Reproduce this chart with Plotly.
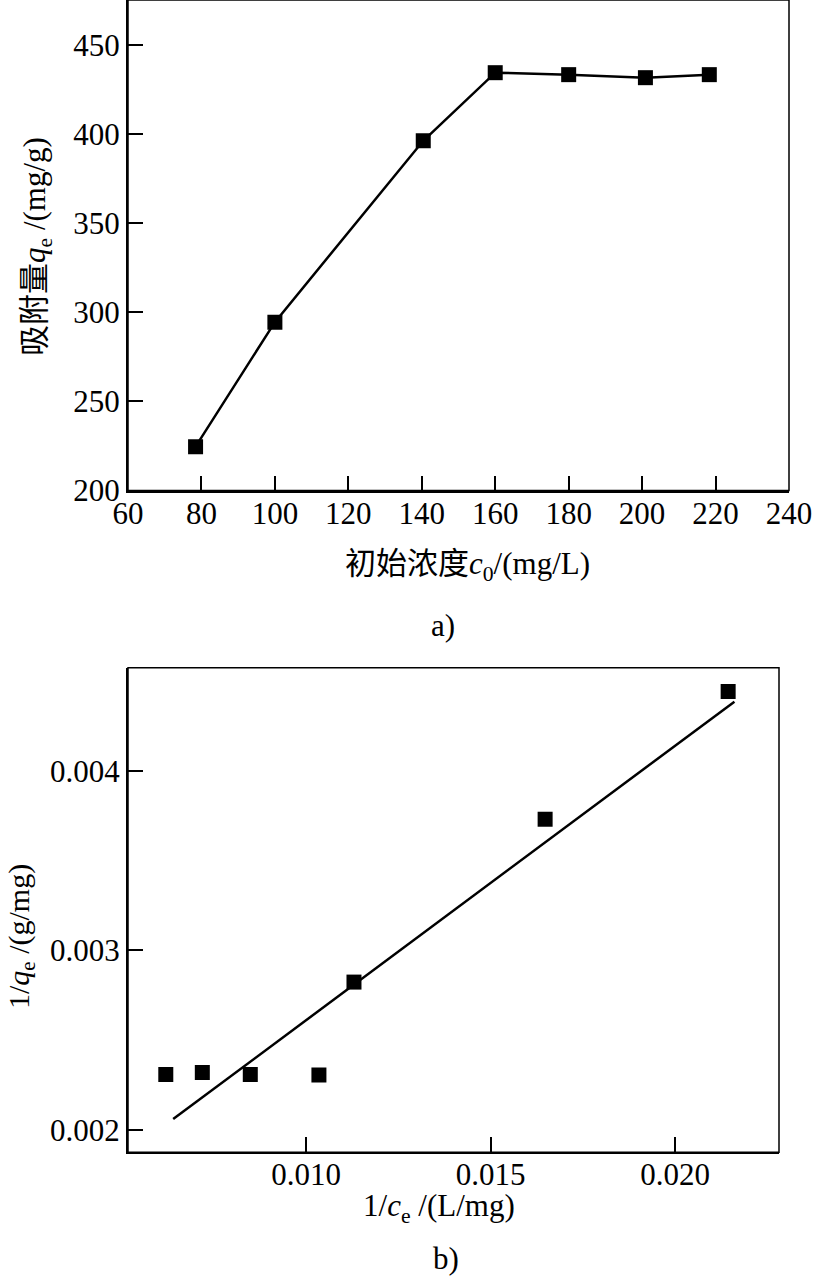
import plotly.graph_objects as go

# ---- data ----
c0 = [78.4, 100.0, 140.4, 160.0, 180.0, 200.9, 218.3]
qe = [224.6, 294.5, 396.3, 434.5, 433.4, 431.7, 433.4]

inv_ce = [0.00620, 0.00719, 0.00849, 0.01035, 0.01130, 0.01648, 0.02144]
inv_qe = [0.002310, 0.002321, 0.002310, 0.002306, 0.002824, 0.003731, 0.004443]

fit_x = [0.00640, 0.02161]
fit_y = [0.002061, 0.004386]

top_xticks = [60, 80, 100, 120, 140, 160, 180, 200, 220, 240]
top_yticks = [200, 250, 300, 350, 400, 450]
bot_xticks = [0.010, 0.015, 0.020]
bot_yticks = [0.002, 0.003, 0.004]

W, H = 813, 1280
FONT = "Liberation Serif, Times New Roman, Noto Sans CJK SC, serif"
FS = 31

fig = go.Figure()

fig.add_trace(go.Scatter(
    x=c0, y=qe, mode="lines+markers",
    line=dict(color="black", width=2.5),
    marker=dict(symbol="square", size=15, color="black"),
    xaxis="x", yaxis="y", showlegend=False))

fig.add_trace(go.Scatter(
    x=inv_ce, y=inv_qe, mode="markers",
    marker=dict(symbol="square", size=15, color="black"),
    xaxis="x2", yaxis="y2", showlegend=False))

fig.add_trace(go.Scatter(
    x=fit_x, y=fit_y, mode="lines",
    line=dict(color="black", width=2.5),
    xaxis="x2", yaxis="y2", showlegend=False))

axis_common = dict(showgrid=False, zeroline=False, showline=True,
                   linecolor="black", linewidth=2, ticks="inside",
                   ticklen=15, tickwidth=1.5, tickcolor="black",
                   automargin=False,
                   tickfont=dict(family=FONT, size=FS, color="black"))

td = [128 / W, 789 / W]
bd = [128 / W, 779 / W]

fig.update_layout(
    width=W, height=H,
    margin=dict(l=0, r=0, t=0, b=0, autoexpand=False),
    paper_bgcolor="white", plot_bgcolor="white",
    xaxis=dict(domain=td, range=[60, 240], tickvals=top_xticks,
               anchor="y", ticklabelstandoff=-6, **axis_common),
    yaxis=dict(domain=[1 - 490.5 / H, 1.0], range=[200, 475.3],
               tickvals=top_yticks, anchor="x", **axis_common),
    xaxis2=dict(domain=bd, range=[0.005176, 0.022818], tickvals=bot_xticks,
                tickformat=".3f", anchor="y2", ticklabelstandoff=-7,
                **axis_common),
    yaxis2=dict(domain=[1 - 1152.3 / H, 1 - 667.7 / H],
                range=[0.001876, 0.004575], tickvals=bot_yticks,
                tickformat=".3f", anchor="x2", **axis_common),
)

# top/right borders (thinner)
fig.add_shape(type="rect", xref="x domain", yref="y domain",
              x0=0, x1=1, y0=0, y1=1, line=dict(color="black", width=1.5))
fig.add_shape(type="rect", xref="x2 domain", yref="y2 domain",
              x0=0, x1=1, y0=0, y1=1, line=dict(color="black", width=1.5))

def ann(text, x, y, angle=0, size=FS):
    fig.add_annotation(text=text, x=x / W, y=1 - y / H, xref="paper",
                       yref="paper", showarrow=False, textangle=angle,
                       xanchor="center", yanchor="middle",
                       font=dict(family=FONT, size=size, color="black"))

ann("吸附量<i>q</i><sub>e</sub> /(mg/g)", 37, 247, -90)
ann("初始浓度<i>c</i><sub>0</sub>/(mg/L)", 467, 566)
ann("a)", 443, 625)
ann("1/<i>q</i><sub>e</sub> /(g/mg)", 21, 937, -90, 30)
ann("1/<i>c</i><sub>e</sub> /(L/mg)", 439, 1208)
ann("b)", 446, 1258)

fig.write_html("out.html")
